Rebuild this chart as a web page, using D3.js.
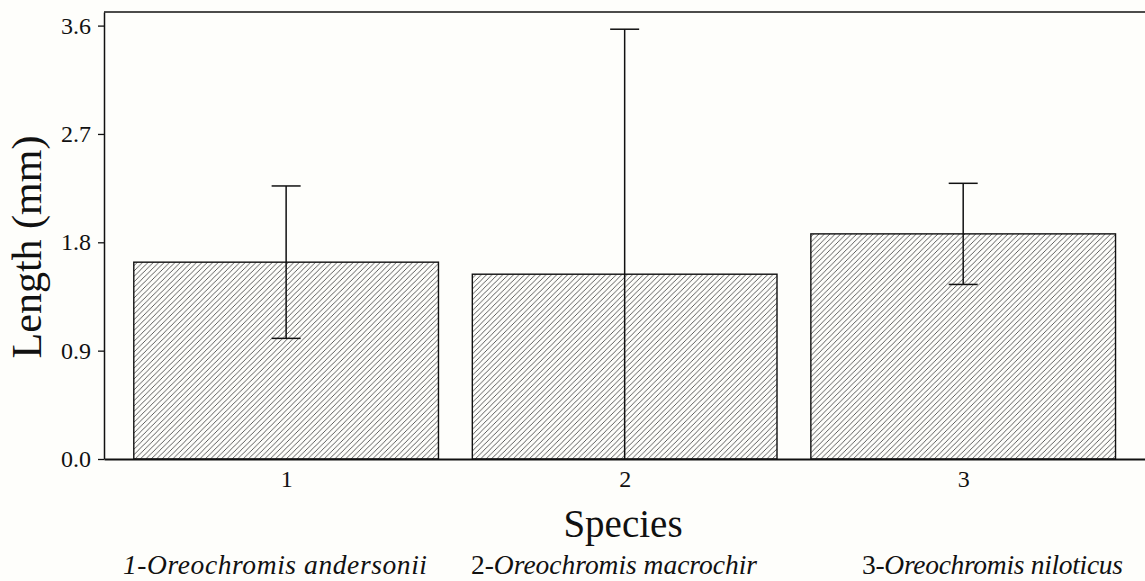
<!DOCTYPE html>
<html>
<head>
<meta charset="utf-8">
<script src="https://cdn.jsdelivr.net/npm/d3@7"></script>
<style>
  html, body { margin: 0; padding: 0; background: #fefefb; }
  svg { display: block; }
  text, tspan { font-family: "Liberation Serif", "Times New Roman", serif; fill: #111; }
</style>
</head>
<body>
<svg id="chart" width="1145" height="581"></svg>
<script>
// ---- data ----
const categories = [1, 2, 3];
const means = [1.635, 1.535, 1.87];
const sds = [0.633, 2.035, 0.42];
const yTicks = [0.0, 0.9, 1.8, 2.7, 3.6];
const speciesNames = [
  {num: "1-", name: "Oreochromis andersonii", numItalic: true},
  {num: "2-", name: "Oreochromis macrochir", numItalic: false},
  {num: "3-", name: "Oreochromis niloticus", numItalic: false}
];

(function () {
const svg = d3.select("#chart");
const mLeft = 104, mRight = 1146, mTop = 12, mBottom = 459;

const x = d3.scaleLinear().domain([0.462, 3.54]).range([mLeft, mRight]);
const y = d3.scaleLinear().domain([0, 3.713]).range([mBottom, mTop]);
const barW = 0.9;

// hatch pattern
const defs = svg.append("defs");
const w = 5.4;
const pat = defs.append("pattern")
  .attr("id", "hatch").attr("patternUnits", "userSpaceOnUse")
  .attr("width", w).attr("height", w);
pat.append("rect").attr("width", w).attr("height", w).attr("fill", "#fefefb");
pat.append("path")
  .attr("d", `M0,${w} L${w},0 M${-w/2},${w/2} L${w/2},${-w/2} M${w/2},${w*1.5} L${w*1.5},${w/2}`)
  .attr("stroke", "#4a4a4a").attr("stroke-width", 0.9);

// bars
svg.append("g").selectAll("rect").data(categories).join("rect")
  .attr("x", (d) => x(d - barW / 2))
  .attr("width", (d) => x(d + barW / 2) - x(d - barW / 2))
  .attr("y", (d, i) => y(means[i]))
  .attr("height", (d, i) => y(0) - y(means[i]))
  .attr("fill", "url(#hatch)")
  .attr("stroke", "#111").attr("stroke-width", 1.4);

// error bars
const capHalf = 14.5;
const eg = svg.append("g").attr("stroke", "#111").attr("stroke-width", 1.5).attr("fill", "none");
categories.forEach((c, i) => {
  const hi = means[i] + sds[i];
  const lo = Math.max(0, means[i] - sds[i]);
  const cx = x(c);
  eg.append("line").attr("x1", cx).attr("x2", cx).attr("y1", y(hi)).attr("y2", y(lo));
  eg.append("line").attr("x1", cx - capHalf).attr("x2", cx + capHalf).attr("y1", y(hi)).attr("y2", y(hi));
  if (means[i] - sds[i] > 0) {
    eg.append("line").attr("x1", cx - capHalf).attr("x2", cx + capHalf).attr("y1", y(lo)).attr("y2", y(lo));
  }
});

// top border
svg.append("line").attr("x1", mLeft).attr("x2", mRight).attr("y1", mTop).attr("y2", mTop)
  .attr("stroke", "#111").attr("stroke-width", 1.5);

// y axis
const yAxis = d3.axisLeft(y).tickValues(yTicks).tickFormat(d3.format(".1f"))
  .tickSize(6).tickSizeOuter(0).tickPadding(7);
const gy = svg.append("g").attr("transform", `translate(${mLeft},0)`).call(yAxis);
gy.select(".domain").attr("stroke", "#111").attr("stroke-width", 1.5);
gy.selectAll(".tick line").attr("stroke", "#111").attr("stroke-width", 1.3);
gy.selectAll(".tick text").style("font-family", '"Liberation Serif", serif').style("font-size", "24px").attr("fill", "#111");

// x axis
const xAxis = d3.axisBottom(x).tickValues(categories).tickFormat(d3.format("d"))
  .tickSize(0).tickSizeOuter(0).tickPadding(11);
const gx = svg.append("g").attr("transform", `translate(0,${mBottom})`).call(xAxis);
gx.select(".domain").attr("stroke", "#111").attr("stroke-width", 2);
gx.selectAll(".tick text").style("font-family", '"Liberation Serif", serif').style("font-size", "24px").attr("fill", "#111");

// axis titles
svg.append("text").attr("transform", `translate(41,247) rotate(-90)`)
  .attr("text-anchor", "middle").style("font-size", "42px").text("Length (mm)");
svg.append("text").attr("x", 623).attr("y", 537)
  .attr("text-anchor", "middle").style("font-size", "39px").text("Species");

// species names
const nameX = [123, 471, 862];
const nameW = [304, 286, 261];
speciesNames.forEach((s, i) => {
  const t = svg.append("text").attr("x", nameX[i]).attr("y", 574)
    .style("font-size", "27.5px")
    .attr("textLength", nameW[i]).attr("lengthAdjust", "spacing");
  t.append("tspan").style("font-style", s.numItalic ? "italic" : "normal").text(s.num);
  t.append("tspan").style("font-style", "italic").text(s.name);
});
})();
</script>
</body>
</html>
